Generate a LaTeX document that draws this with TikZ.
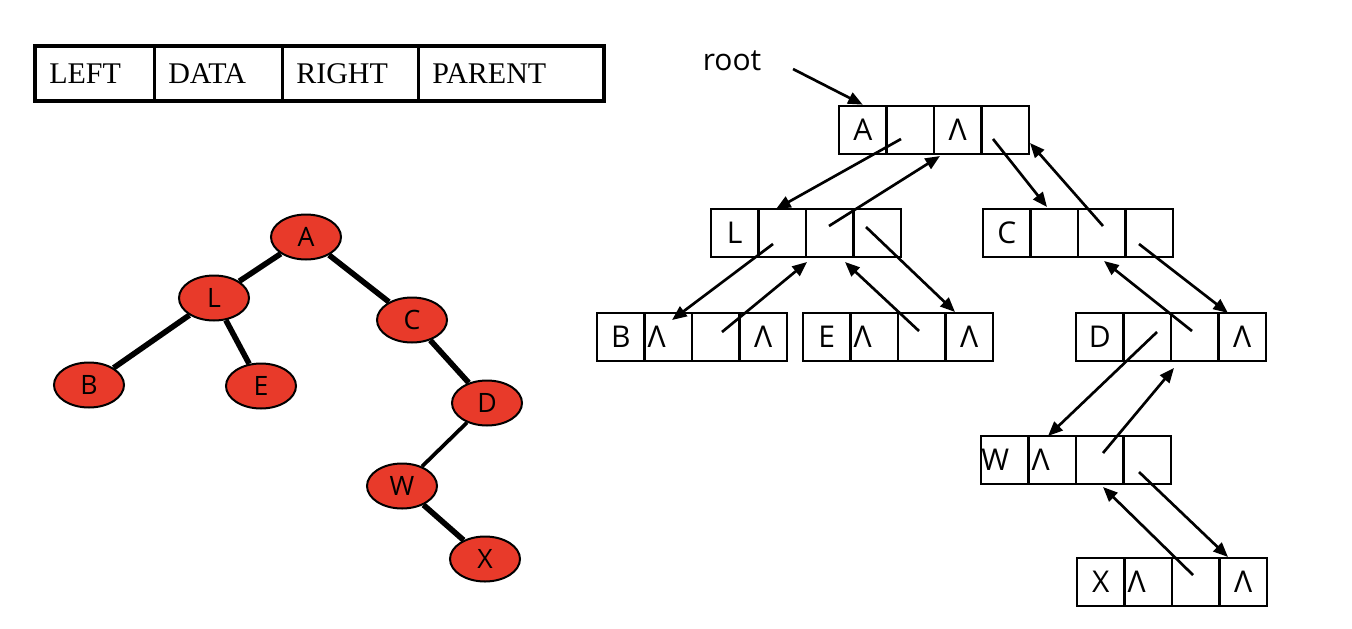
\documentclass[tikz,border=0pt]{standalone}
\usepackage{fontspec}
\setmainfont{Liberation Serif}
\setsansfont{Open Sans}
\usetikzlibrary{arrows.meta}
\definecolor{nodered}{RGB}{232,58,42}
\newcommand\lft[1]{\hbox to 31pt{#1\hfil}}
\newcommand\myrec[7]{%
  \node[cell] (#11) at (#2+23.75,#3+24) {#4};
  \node[cell] (#12) at (#2+71.25,#3+24) {#5};
  \node[cell] (#13) at (#2+118.75,#3+24) {#6};
  \node[cell] (#14) at (#2+166.25,#3+24) {#7};
}
\tikzset{
  cell/.style={draw, line width=2pt, minimum width=35.6pt, minimum height=36pt,
    inner sep=0pt, font=\sffamily\fontsize{22.5}{27}\selectfont},
  hcell/.style={draw, line width=1.5pt, minimum height=39.75pt, inner ysep=0pt,
    inner xsep=10pt, align=left, anchor=north west,
    font=\rmfamily\fontsize{22.5}{27}\selectfont},
  tnode/.style={ellipse, draw, line width=1.5pt, fill=nodered,
    minimum width=52.5pt, minimum height=33.75pt, inner sep=0pt,
    font=\sffamily\fontsize{20}{24}\selectfont},
  tedge/.style={line width=4.2pt},
  ptr/.style={line width=2pt, -{Triangle[length=11pt,width=9pt]}}
}
\usetikzlibrary{shapes.geometric}
\begin{document}
\begin{tikzpicture}[x=0.75pt,y=-0.75pt]
\useasboundingbox (0,0) rectangle (1352,628);
% header table
\node[hcell, text width=68.25pt] (hl) at (35,46) {LEFT};
\node[hcell, text width=75pt] (hd) at (154,46) {DATA};
\node[hcell, text width=81pt] (hr) at (282,46) {RIGHT};
\node[hcell, text width=117.75pt] (hp) at (418,46) {PARENT};
\draw[line width=3pt] (hl.north west) rectangle (hp.south east);
% tree
\node[tnode] (ta) at (306,237) {A};
\node[tnode] (tl) at (214,298) {L};
\node[tnode] (tc) at (412,320) {C};
\node[tnode] (tb) at (89,385) {B};
\node[tnode] (te) at (261,386) {E};
\node[tnode] (td) at (487,403) {D};
\node[tnode] (tw) at (402,486) {W};
\node[tnode] (tx) at (485,559) {X};
\draw[tedge] (ta) -- (tl);
\draw[tedge] (ta) -- (tc);
\draw[tedge] (tl) -- (tb);
\draw[tedge] (tl) -- (te);
\draw[tedge] (tc) -- (td);
\draw[line width=2.8pt] (td) -- (tw);
\draw[tedge] (tw) -- (tx);
% records
\myrec{A}{839}{106}{A}{}{Λ}{}
\myrec{L}{711}{209}{L}{}{}{}
\myrec{C}{983}{209}{C}{}{}{}
\myrec{B}{597}{313}{B}{\lft{Λ}}{}{Λ}
\myrec{E}{803}{313}{E}{\lft{Λ}}{}{Λ}
\myrec{D}{1076}{313}{D}{}{}{Λ}
\myrec{W}{981}{436}{\hbox to 35pt{W\hfil}}{\lft{Λ}}{}{}
\myrec{X}{1077}{558}{X}{\lft{Λ}}{}{Λ}
% root label
\node[font=\sffamily\fontsize{22.5}{27}\selectfont, inner sep=0pt] (root) at (732,61) {root};
% pointer coordinates
\coordinate (r0) at (793,69);
\coordinate (p2s) at (901,139);  \coordinate (p2e) at (776,209);
\coordinate (p3s) at (829,226);  \coordinate (p3e) at (940,156);
\coordinate (p4s) at (993,139);  \coordinate (p4e) at (1047,207);
\coordinate (p5s) at (1103,226); \coordinate (p5e) at (1030,143);
\coordinate (p6s) at (773,244);  \coordinate (p6e) at (672,320);
\coordinate (p7s) at (722,332);  \coordinate (p7e) at (807,262);
\coordinate (p8s) at (919,331);  \coordinate (p8e) at (845,262);
\coordinate (p9s) at (866,227);  \coordinate (p9e) at (955,312);
\coordinate (p10s) at (1139,244); \coordinate (p10e) at (1228,313);
\coordinate (p11s) at (1192,331); \coordinate (p11e) at (1104,261);
\coordinate (p12s) at (1157,332); \coordinate (p12e) at (1048,436);
\coordinate (p13s) at (1103,453); \coordinate (p13e) at (1174,368);
\coordinate (p14s) at (1139,472); \coordinate (p14e) at (1228,557);
\coordinate (p15s) at (1193,575); \coordinate (p15e) at (1103,487);
\draw[ptr] (r0) -- (A1.north);
\draw[ptr] (p2s) -- (p2e);
\draw[ptr] (p3s) -- (p3e);
\draw[ptr] (p4s) -- (p4e);
\draw[ptr] (p5s) -- (p5e);
\draw[ptr] (p6s) -- (p6e);
\draw[ptr] (p7s) -- (p7e);
\draw[ptr] (p8s) -- (p8e);
\draw[ptr] (p9s) -- (p9e);
\draw[ptr] (p10s) -- (p10e);
\draw[ptr] (p11s) -- (p11e);
\draw[ptr] (p12s) -- (p12e);
\draw[ptr] (p13s) -- (p13e);
\draw[ptr] (p14s) -- (p14e);
\draw[ptr] (p15s) -- (p15e);
\end{tikzpicture}
\end{document}
